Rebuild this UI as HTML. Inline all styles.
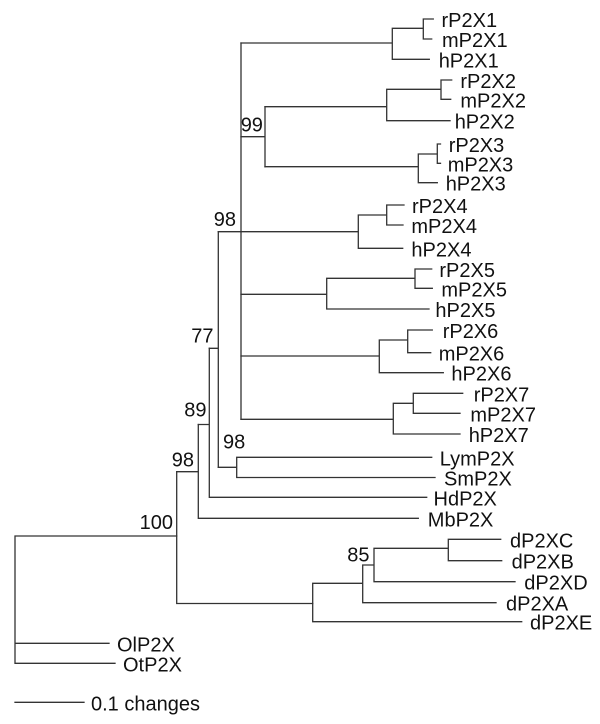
<!DOCTYPE html>
<html>
<head>
<meta charset="utf-8">
<style>
  html, body { margin:0; padding:0; background:#fff; }
  svg { display:block; }
  text { font-family: "Liberation Sans", Arial, sans-serif; font-size:20px; fill:#111; }
</style>
</head>
<body>
<svg width="600" height="724" viewBox="0 0 600 724" xmlns="http://www.w3.org/2000/svg">
<g fill="none" stroke="#333" stroke-width="1.3" stroke-linecap="square">
  <!-- root -->
  <path d="M15 536 V663.3 M15 536 H176.7 M15 643.3 H109 M15 663.3 H115"/>
  <!-- 100 node -->
  <path d="M176.7 471.7 V603.5 M176.7 603.5 H312.7"/>
  <!-- Drosophila clade -->
  <path d="M312.7 583.3 V621.7 M312.7 621.7 H521.7 M312.7 583.3 H362.7 M362.7 565 V602.7 M362.7 602.7 H496 M362.7 565 H374 M374 548.3 V581.7 M374 581.7 H515 M374 548.3 H448.3 M448.3 539.3 V560.7 M448.3 539.3 H500.7 M448.3 560.7 H501.7"/>
  <!-- 98 node -->
  <path d="M176.7 471.7 H198.3 M198.3 424.5 V518.3 M198.3 518.3 H418.3"/>
  <!-- 89 node -->
  <path d="M198.3 424.5 H209.3 M209.3 348.3 V497.3 M209.3 497.3 H426.7"/>
  <!-- 77 node -->
  <path d="M209.3 348.3 H218.3 M218.3 231.7 V467.3"/>
  <!-- Lym/Sm -->
  <path d="M218.3 467.3 H236.7 M236.7 457.3 V477.5 M236.7 457.3 H431.7 M236.7 477.5 H435"/>
  <!-- big 98 clade -->
  <path d="M218.3 231.7 H241 M241 43 V419.3"/>
  <!-- P2X1 -->
  <path d="M241 43 H392.3 M392.3 28.3 V59.3 M392.3 28.3 H423.3 M423.3 19 V39 M423.3 19 H433.3 M423.3 39 H431.7 M392.3 59.3 H429.3"/>
  <!-- 99 -->
  <path d="M241 136.7 H265 M265 106.7 V166.7"/>
  <!-- P2X2 -->
  <path d="M265 106.7 H386.7 M386.7 89.3 V120.7 M386.7 89.3 H441 M441 80 V99.3 M441 80 H451.7 M441 99.3 H450.7 M386.7 120.7 H450"/>
  <!-- P2X3 -->
  <path d="M265 166.7 H418.3 M418.3 154 V182.7 M418.3 154 H437.3 M437.3 144 V163.3 M437.3 144 H440.5 M437.3 163.3 H440.5 M418.3 182.7 H437.3"/>
  <!-- P2X4 -->
  <path d="M241 231.7 H358.3 M358.3 215 V248.3 M358.3 215 H386.7 M386.7 205 V225 M386.7 205 H404 M386.7 225 H403 M358.3 248.3 H402.7"/>
  <!-- P2X5 -->
  <path d="M241 294.3 H326.7 M326.7 278.3 V309 M326.7 278.3 H415 M415 269 V288.3 M415 269 H431.7 M415 288.3 H432.3 M326.7 309 H429"/>
  <!-- P2X6 -->
  <path d="M241 356 H379.3 M379.3 340 V372.7 M379.3 340 H407.7 M407.7 330 V352.7 M407.7 330 H432.3 M407.7 352.7 H430.7 M379.3 372.7 H443.3"/>
  <!-- P2X7 -->
  <path d="M241 419.3 H393.3 M393.3 403.3 V434 M393.3 403.3 H413.3 M413.3 393.3 V413.3 M413.3 393.3 H462.7 M413.3 413.3 H460 M393.3 434 H460"/>
  <!-- scale bar -->
  <path d="M15 702.3 H84"/>
</g>

<!-- leaf labels -->
<text x="441.5" y="27">rP2X1</text>
<text x="442" y="47">mP2X1</text>
<text x="438.7" y="67.3">hP2X1</text>
<text x="460.4" y="88">rP2X2</text>
<text x="460.4" y="107.3">mP2X2</text>
<text x="454.7" y="128.7">hP2X2</text>
<text x="448.7" y="152">rP2X3</text>
<text x="447.7" y="171.3">mP2X3</text>
<text x="445.7" y="190.7">hP2X3</text>
<text x="412" y="213">rP2X4</text>
<text x="411.4" y="233">mP2X4</text>
<text x="411.4" y="256.3">hP2X4</text>
<text x="439.4" y="277">rP2X5</text>
<text x="441.4" y="296.3">mP2X5</text>
<text x="435.4" y="317">hP2X5</text>
<text x="442.7" y="338">rP2X6</text>
<text x="438.7" y="360.7">mP2X6</text>
<text x="451.4" y="380.7">hP2X6</text>
<text x="473.7" y="401.3">rP2X7</text>
<text x="470.4" y="421.3">mP2X7</text>
<text x="468.7" y="442">hP2X7</text>
<text x="439.7" y="465.3">LymP2X</text>
<text x="444" y="485.5">SmP2X</text>
<text x="433.5" y="505.3">HdP2X</text>
<text x="427.8" y="526.3">MbP2X</text>
<text x="510" y="547.3">dP2XC</text>
<text x="511.6" y="568.7">dP2XB</text>
<text x="524.3" y="589.7">dP2XD</text>
<text x="506" y="610.7">dP2XA</text>
<text x="530" y="629.7">dP2XE</text>
<text x="117" y="651.3">OlP2X</text>
<text x="123" y="671.3">OtP2X</text>
<text x="91" y="710.3">0.1 changes</text>

<!-- bootstrap values -->
<text x="173" y="529" text-anchor="end">100</text>
<text x="194" y="466.7" text-anchor="end">98</text>
<text x="206.5" y="416.7" text-anchor="end">89</text>
<text x="213.5" y="342.7" text-anchor="end">77</text>
<text x="223" y="448.3">98</text>
<text x="236" y="226" text-anchor="end">98</text>
<text x="240.7" y="131.7">99</text>
<text x="369.5" y="561.7" text-anchor="end">85</text>
</svg>
</body>
</html>
